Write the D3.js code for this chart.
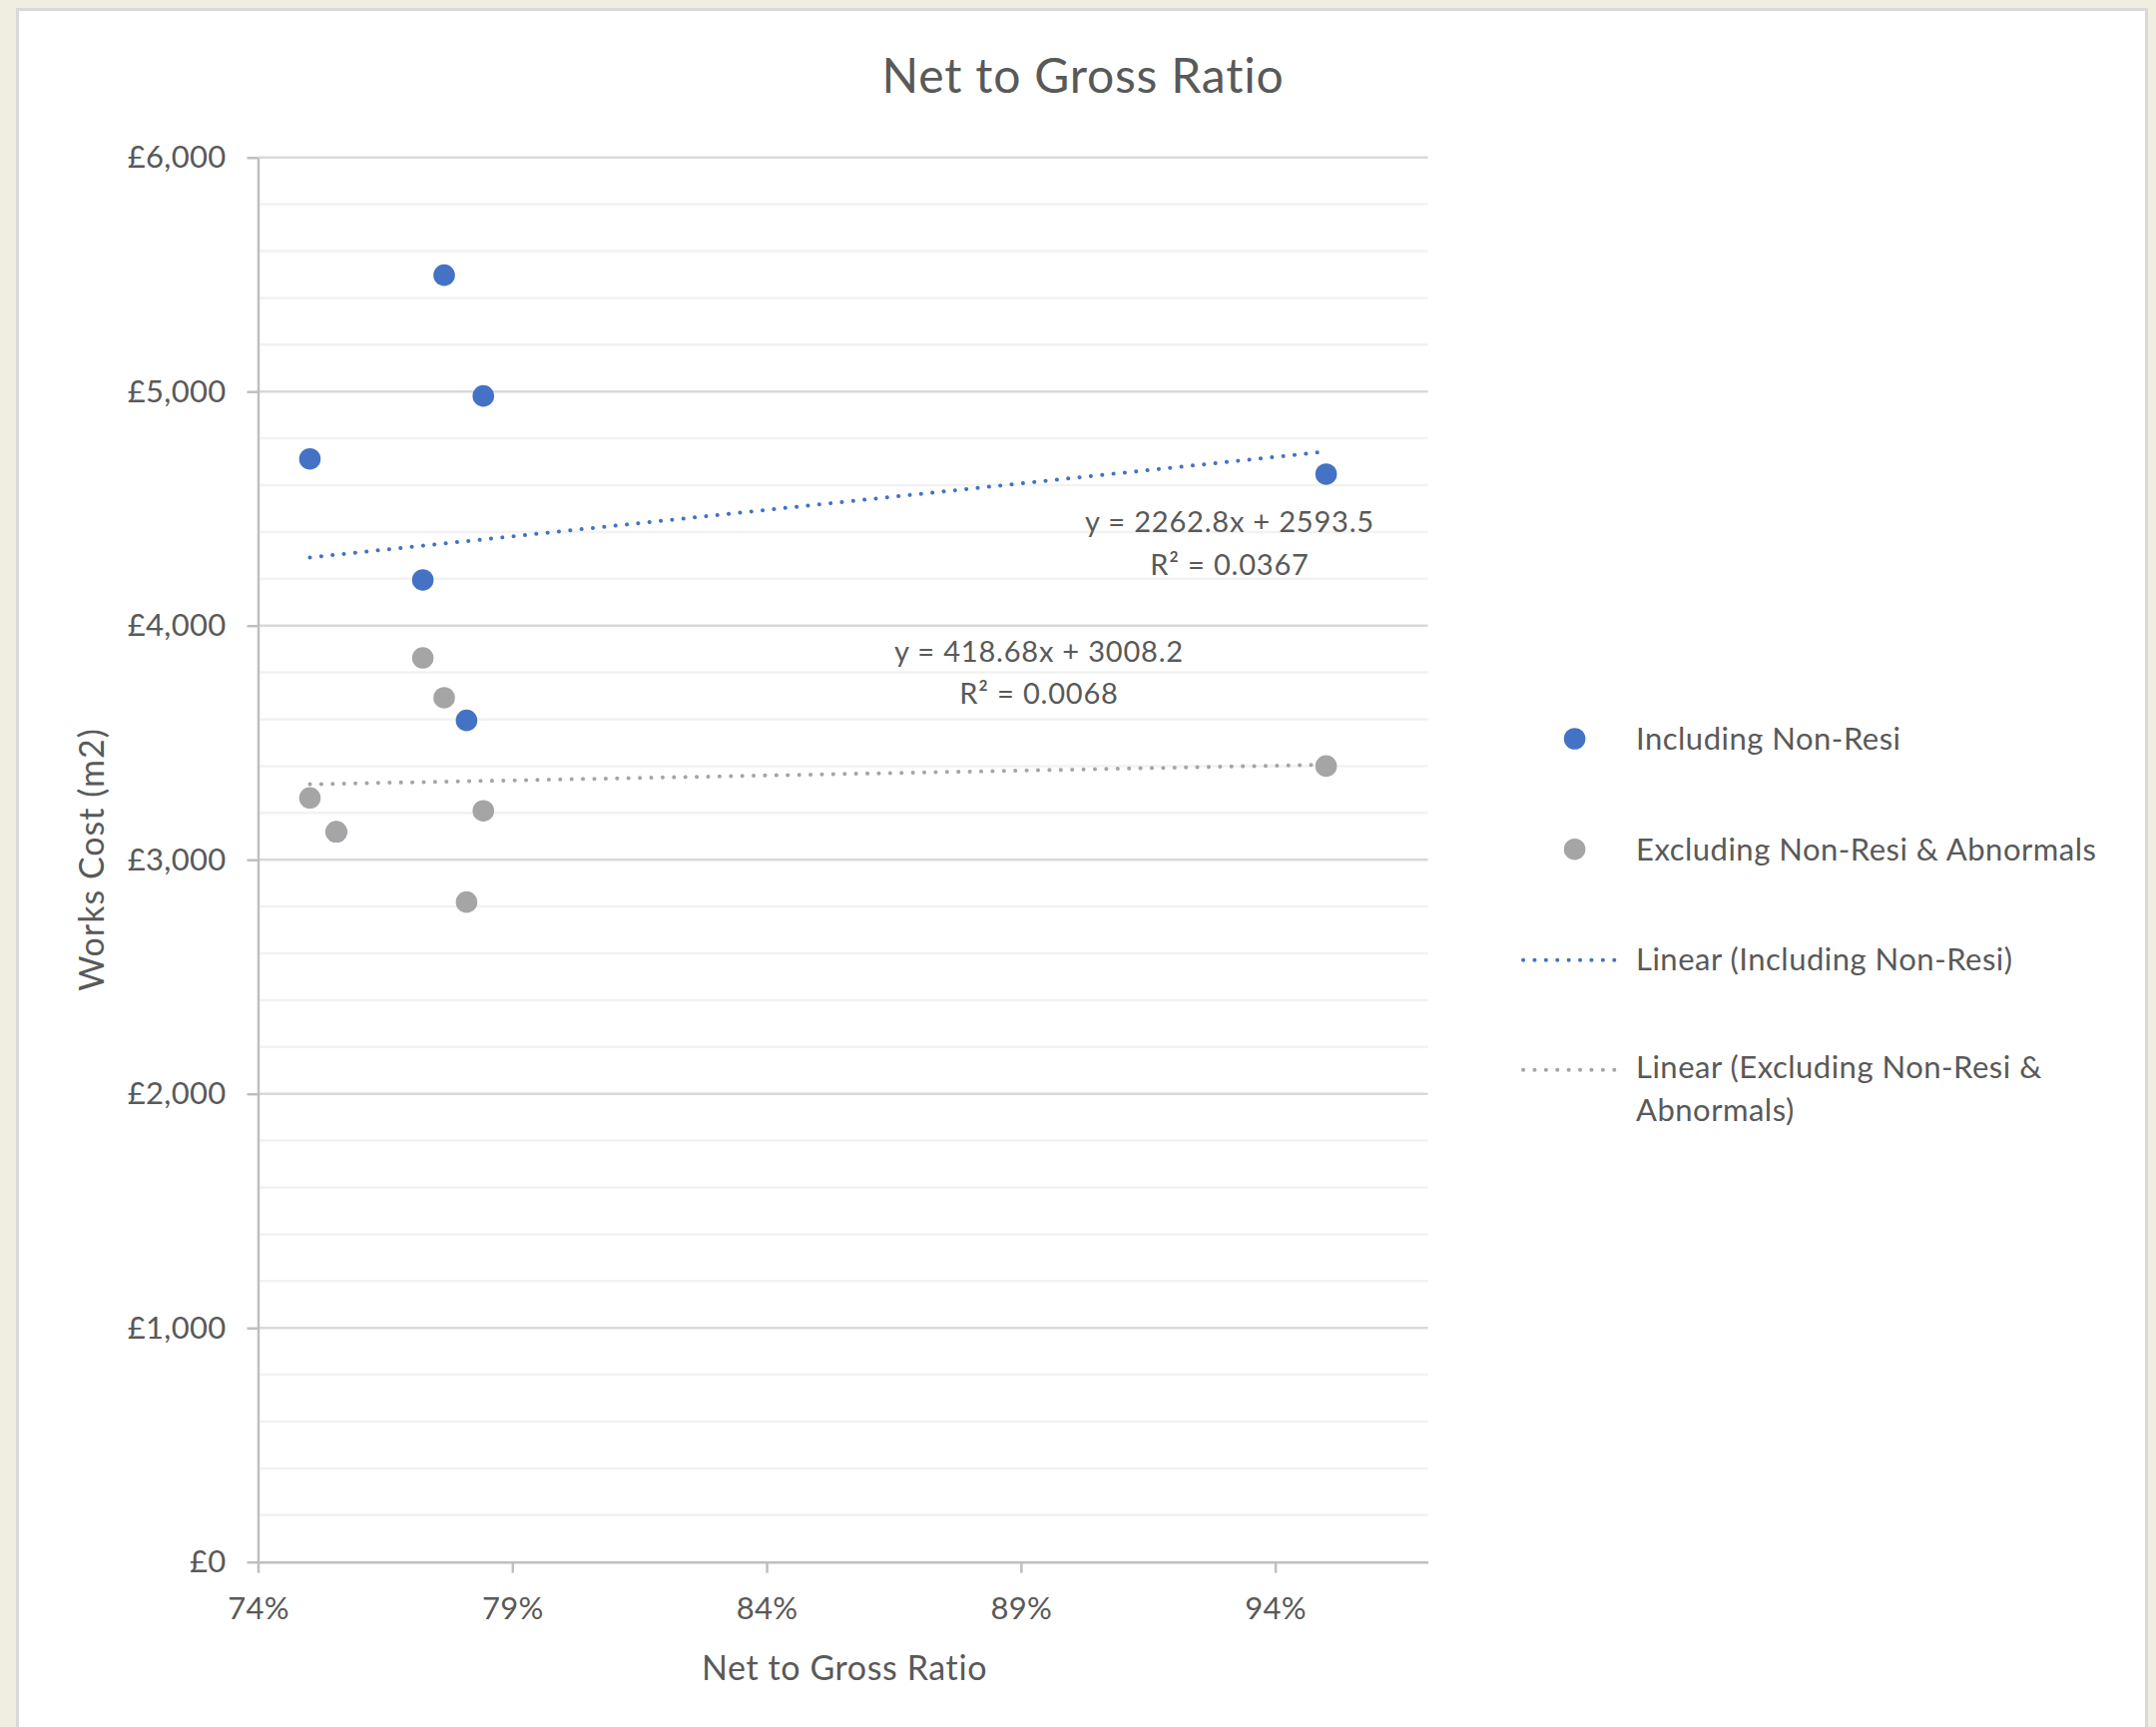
<!DOCTYPE html>
<html>
<head>
<meta charset="utf-8">
<script src="https://cdn.jsdelivr.net/npm/d3@7"></script>
<style>
  html, body { margin: 0; padding: 0; background: #f0ede1; }
  svg { display: block; }
  text { font-family: Lato, "Open Sans", sans-serif; fill: #595959; }
</style>
</head>
<body>
<svg id="chart" width="2160" height="1730"></svg>
<script>
// Net-to-gross ratio per scheme and the works cost per m2
const ratio    = [0.7502, 0.7766, 0.7843, 0.7724, 0.7810, 0.9500, 0.7554];
const costIncl = [4712, 5497, 4981, 4195, 3595, 4647, 3119];   // Including Non-Resi
const costExcl = [3264, 3692, 3209, 3862, 2819, 3400, 3119];   // Excluding Non-Resi & Abnormals

// Linear trendline coefficients (y = slope * x + intercept) and R²
const seriesNames = ["Including Non-Resi", "Excluding Non-Resi & Abnormals"];
const trendSlope = [2262.8, 418.68];
const trendIntercept = [2593.5, 3008.2];
const trendR2 = ["0.0367", "0.0068"];

// Axis ticks
const xTicks = [0.74, 0.79, 0.84, 0.89, 0.94];
const yMajor = [0, 1000, 2000, 3000, 4000, 5000, 6000];
const yMinor = d3.range(0, 6001, 200).filter(v => v % 1000 !== 0);

const blue = "#4472C4", grey = "#A5A5A5";
const colors = [blue, grey];

const svg = d3.select("#chart");

// chart panel
svg.append("rect").attr("x", 17.5).attr("y", 9.5).attr("width", 2133).attr("height", 1740)
  .attr("fill", "#ffffff").attr("stroke", "#d9d9d9").attr("stroke-width", 3);

const x = d3.scaleLinear().domain([0.74, 0.97]).range([258.5, 1430.5]);
const y = d3.scaleLinear().domain([0, 6000]).range([1564.7, 157.7]);

// gridlines
svg.append("g").selectAll("line").data(yMinor).join("line")
  .attr("x1", x(0.74)).attr("x2", x(0.97))
  .attr("y1", d => y(d)).attr("y2", d => y(d))
  .attr("stroke", "#f2f2f2").attr("stroke-width", 2.5);
svg.append("g").selectAll("line").data(yMajor.filter(d => d > 0)).join("line")
  .attr("x1", x(0.74)).attr("x2", x(0.97))
  .attr("y1", d => y(d)).attr("y2", d => y(d))
  .attr("stroke", "#d9d9d9").attr("stroke-width", 2.5);

// axes
const yAxis = d3.axisLeft(y).tickValues(yMajor)
  .tickFormat(d => "£" + d3.format(",")(d))
  .tickSize(11).tickSizeOuter(0).tickPadding(21);
const gy = svg.append("g").attr("transform", `translate(${x(0.74)},0)`).call(yAxis);

const xAxis = d3.axisBottom(x).tickValues(xTicks)
  .tickFormat(d3.format(".0%"))
  .tickSize(11).tickSizeOuter(0).tickPadding(24.5);
const gx = svg.append("g").attr("transform", `translate(0,${y(0)})`).call(xAxis);

[gx, gy].forEach(g => {
  g.select(".domain").attr("stroke", "#bfbfbf").attr("stroke-width", 2.5);
  g.selectAll(".tick line").attr("stroke", "#bfbfbf").attr("stroke-width", 2.5);
  g.selectAll(".tick text").attr("font-size", 31).attr("letter-spacing", 0.3)
    .attr("fill", "#595959")
    .attr("font-family", "Lato, 'Open Sans', sans-serif");
});

// trendlines
const xMin = d3.min(ratio), xMax = d3.max(ratio);
trendSlope.forEach((m, i) => {
  const b = trendIntercept[i];
  svg.append("line")
    .attr("x1", x(xMin)).attr("y1", y(m * xMin + b))
    .attr("x2", x(xMax)).attr("y2", y(m * xMax + b))
    .attr("stroke", colors[i]).attr("stroke-width", 4)
    .attr("stroke-linecap", "round").attr("stroke-dasharray", "0.1 11.3");
});

// scatter points
const seriesVals = [costIncl, costExcl];
seriesVals.forEach((vals, i) => {
  svg.append("g").selectAll("circle").data(ratio.map((r, k) => [r, vals[k]])).join("circle")
    .attr("cx", d => x(d[0])).attr("cy", d => y(d[1])).attr("r", 10.8)
    .attr("fill", colors[i]);
});

// trendline equation labels
const eqPos = [[1232, 533, 576], [1041, 663, 705]];
trendSlope.forEach((m, i) => {
  const [cx, y1, y2] = eqPos[i];
  svg.append("text").attr("x", cx).attr("y", y1).attr("text-anchor", "middle")
    .attr("font-size", 29).attr("letter-spacing", 0.8)
    .text(`y = ${m}x + ${trendIntercept[i]}`);
  svg.append("text").attr("x", cx).attr("y", y2).attr("text-anchor", "middle")
    .attr("font-size", 29).attr("letter-spacing", 0.8)
    .text(`R² = ${trendR2[i]}`);
});

// titles
svg.append("text").attr("x", 1085).attr("y", 93).attr("text-anchor", "middle")
  .attr("font-size", 48).attr("letter-spacing", 0.8).text("Net to Gross Ratio");
svg.append("text").attr("x", 846).attr("y", 1683).attr("text-anchor", "middle")
  .attr("font-size", 34).attr("letter-spacing", 0.6).text("Net to Gross Ratio");
svg.append("text").attr("transform", "translate(104,861) rotate(-90)")
  .attr("text-anchor", "middle").attr("font-size", 34).attr("letter-spacing", 1)
  .text("Works Cost (m2)");

// legend
const lg = svg.append("g").attr("font-size", 31).attr("letter-spacing", 0.5);
const legendY = [740, 850.7, 961.7, 1071.7];
seriesNames.forEach((name, i) => {
  lg.append("circle").attr("cx", 1577.6).attr("cy", legendY[i]).attr("r", 10.8).attr("fill", colors[i]);
  lg.append("text").attr("x", 1639).attr("y", legendY[i] + 11).text(name);
});
seriesNames.forEach((name, i) => {
  const ly = legendY[i + 2];
  lg.append("line").attr("x1", 1526).attr("x2", 1620).attr("y1", ly).attr("y2", ly)
    .attr("stroke", colors[i]).attr("stroke-width", 4)
    .attr("stroke-linecap", "round").attr("stroke-dasharray", "0.1 11.3");
});
lg.append("text").attr("x", 1639).attr("y", 972)
  .text(`Linear (${seriesNames[0]})`);
const t4 = lg.append("text").attr("x", 1639).attr("y", 1080);
t4.append("tspan").attr("x", 1639).text("Linear (Excluding Non-Resi &");
t4.append("tspan").attr("x", 1639).attr("y", 1123).text("Abnormals)");
</script>
</body>
</html>
